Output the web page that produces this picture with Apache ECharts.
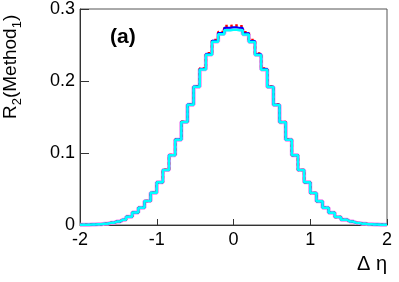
<!DOCTYPE html>
<html>
<head>
<meta charset="utf-8">
<script src="https://cdn.jsdelivr.net/npm/echarts@6/dist/echarts.min.js"></script>
<style>
  html, body { margin: 0; padding: 0; background: #fff; }
  .wrapper { width: 399px; height: 282px; }
</style>
</head>
<body>
<div class="wrapper"></div>
<script>
// bin centres (0.08 wide bins)
var binCenters = [-2.00,-1.92,-1.84,-1.76,-1.68,-1.60,-1.52,-1.44,-1.36,-1.28,-1.20,-1.12,-1.04,-0.96,-0.88,-0.80,-0.72,-0.64,-0.56,-0.48,-0.40,-0.32,-0.24,-0.16,-0.08,
  0.00,0.08,0.16,0.24,0.32,0.40,0.48,0.56,0.64,0.72,0.80,0.88,0.96,1.04,1.12,1.20,1.28,1.36,1.44,1.52,1.60,1.68,1.76,1.84,1.92,2.00];

// black + magenta
var baseVals = [0.0002,0.0003,0.0006,0.0011,0.0018,0.0030,0.0048,0.0074,0.0113,0.0172,0.0240,0.0332,0.0447,0.0595,0.0765,0.0970,0.1185,0.1430,0.1670,0.1920,0.2163,0.2368,0.2550,0.2655,0.2720,
  0.2725,0.2720,0.2650,0.2545,0.2365,0.2160,0.1917,0.1668,0.1428,0.1183,0.0968,0.0763,0.0594,0.0446,0.0331,0.0239,0.0171,0.0112,0.0073,0.0047,0.0029,0.0018,0.0011,0.0006,0.0003,0.0002];
// red (dotted)
var redVals = [0.0002,0.0003,0.0006,0.0011,0.0018,0.0030,0.0048,0.0074,0.0113,0.0172,0.0240,0.0332,0.0447,0.0595,0.0766,0.0972,0.1188,0.1434,0.1675,0.1928,0.2175,0.2385,0.2570,0.2680,0.2765,
  0.2770,0.2762,0.2678,0.2568,0.2382,0.2172,0.1925,0.1672,0.1432,0.1186,0.0970,0.0764,0.0594,0.0446,0.0331,0.0239,0.0171,0.0112,0.0073,0.0047,0.0029,0.0018,0.0011,0.0006,0.0003,0.0002];
// blue
var blueVals = [0.0002,0.0003,0.0006,0.0011,0.0018,0.0030,0.0048,0.0074,0.0113,0.0172,0.0240,0.0332,0.0447,0.0595,0.0765,0.0971,0.1186,0.1432,0.1672,0.1924,0.2168,0.2375,0.2560,0.2665,0.2740,
  0.2745,0.2738,0.2662,0.2556,0.2372,0.2166,0.1921,0.1670,0.1430,0.1184,0.0969,0.0763,0.0594,0.0446,0.0331,0.0239,0.0171,0.0112,0.0073,0.0047,0.0029,0.0018,0.0011,0.0006,0.0003,0.0002];
// cyan (on top)
var cyanVals = [0.0002,0.0003,0.0006,0.0011,0.0018,0.0030,0.0048,0.0074,0.0113,0.0172,0.0240,0.0332,0.0447,0.0595,0.0765,0.0970,0.1185,0.1430,0.1670,0.1920,0.2160,0.2365,0.2545,0.2650,0.2705,
  0.2712,0.2705,0.2645,0.2540,0.2360,0.2155,0.1915,0.1668,0.1428,0.1183,0.0968,0.0763,0.0594,0.0446,0.0331,0.0239,0.0171,0.0112,0.0073,0.0047,0.0029,0.0018,0.0011,0.0006,0.0003,0.0002];

var xTicks = [-2, -1, 0, 1, 2];
var yTicks = [0, 0.1, 0.2, 0.3];

function pairs(vals) {
  return binCenters.map(function (x, i) { return [x, vals[i]]; });
}
function histo(vals, color, width, type) {
  return {
    type: 'line', step: 'middle', showSymbol: false, silent: true,
    data: pairs(vals),
    lineStyle: { color: color, width: width, type: type || 'solid' }
  };
}

var myChart = echarts.init(document.getElementsByClassName('wrapper')[0], null, { renderer: 'canvas' });
var font = 'Liberation Sans, Arial, sans-serif';

myChart.setOption({
  animation: false,
  grid: { left: 80, right: 12, top: 8, bottom: 57, show: true, borderColor: '#555', borderWidth: 1, backgroundColor: 'transparent' },
  xAxis: {
    type: 'value', min: xTicks[0], max: xTicks[xTicks.length - 1], interval: 1,
    axisLine: { onZero: false, lineStyle: { color: '#333', width: 1 } },
    axisTick: { inside: true, length: 6, lineStyle: { color: '#333' } },
    axisLabel: { color: '#000', fontSize: 18, fontFamily: font, margin: 6 },
    splitLine: { show: false }
  },
  yAxis: {
    type: 'value', min: yTicks[0], max: yTicks[yTicks.length - 1], interval: 0.1,
    axisLine: { show: true, onZero: false, lineStyle: { color: '#333', width: 1 } },
    axisTick: { show: true, inside: true, length: 9, lineStyle: { color: '#333' } },
    axisLabel: { color: '#000', fontSize: 18, fontFamily: font, margin: 5,
      formatter: function (v) { return v === 0 ? '0' : v.toFixed(1); } },
    splitLine: { show: false }
  },
  graphic: [
    { type: 'text', left: 110, top: 27,
      style: { text: '(a)', font: 'bold 21px ' + font, fill: '#000' } },
    { type: 'text', right: 12, top: 254,
      style: { text: 'Δ η', font: '20px ' + font, fill: '#000' } },
    { type: 'text', x: 1, y: 119, rotation: Math.PI / 2,
      style: {
        text: '{n|R}{s|2}{n|(Method}{s|1}{n|)}',
        fill: '#000',
        rich: {
          n: { fontSize: 19, fontFamily: font, lineHeight: 23, verticalAlign: 'top' },
          s: { fontSize: 13, fontFamily: font, lineHeight: 23, verticalAlign: 'top', padding: [10, 0, 0, 0] }
        }
      } }
  ],
  series: [
    histo(baseVals, '#000000', 1),
    histo(baseVals, '#ee88ee', 4),
    histo(redVals, '#ff0000', 2.5, 'dotted'),
    histo(blueVals, '#0000ff', 2),
    histo(cyanVals, '#00ffff', 2.5)
  ]
});
</script>
</body>
</html>
